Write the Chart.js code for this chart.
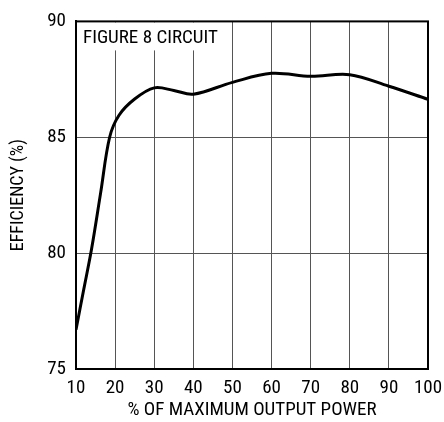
<!DOCTYPE html>
<html>
<head>
<meta charset="utf-8">
<script src="https://cdn.jsdelivr.net/npm/chart.js@4/dist/chart.umd.min.js"></script>
<style>
  html, body { margin: 0; padding: 0; background: #fff; }
  #wrap { width: 444px; height: 422px; }
</style>
</head>
<body>
<div id="wrap"><canvas id="graph" width="444" height="422"></canvas></div>
<script>
// % of max output power vs efficiency
const powerPct = [10, 12, 14, 16.3, 18.6, 21, 25, 30, 35, 40, 50, 60, 70, 80, 90, 100];
const efficiency = [76.7, 78.45, 80.2, 82.6, 85.0, 85.95, 86.65, 87.13, 87.02, 86.86, 87.37, 87.76, 87.63, 87.7, 87.2, 86.64];
const xTicks = [10, 20, 30, 40, 50, 60, 70, 80, 90, 100];
const yTicks = [75, 80, 85, 90];
const noteText = 'FIGURE 8 CIRCUIT';

const FONT = '"Liberation Sans Narrow", "Roboto Condensed", "Liberation Sans", sans-serif';

const points = powerPct.map((x, i) => ({ x: x, y: efficiency[i] }));

// white label box in the top left corner of the plot
const notePlugin = {
  id: 'note',
  beforeDatasetsDraw(chart) {
    const ctx = chart.ctx;
    const a = chart.chartArea;
    ctx.save();
    ctx.fillStyle = '#fff';
    ctx.fillRect(a.left + 1, a.top + 1, 148, 28);
    ctx.fillStyle = '#000';
    ctx.font = '19px ' + FONT;
    ctx.textBaseline = 'middle';
    ctx.fillText(noteText, a.left + 7, a.top + 17);
    ctx.restore();
  }
};

// frame around the plot
const framePlugin = {
  id: 'frame',
  afterDraw(chart) {
    const a = chart.chartArea;
    const ctx = chart.ctx;
    ctx.save();
    ctx.strokeStyle = '#000';
    ctx.lineWidth = 2;
    ctx.strokeRect(a.left, a.top, a.right - a.left, a.bottom - a.top);
    ctx.restore();
  }
};

new Chart(document.getElementById('graph'), {
  type: 'scatter',
  data: {
    datasets: [{
      data: points,
      showLine: true,
      borderColor: '#000',
      borderWidth: 3,
      pointRadius: 0,
      tension: 0.35
    }]
  },
  options: {
    responsive: false,
    animation: false,
    layout: { padding: { left: 0, right: 16, top: 15, bottom: 0 } },
    plugins: { legend: { display: false }, tooltip: { enabled: false } },
    scales: {
      x: {
        type: 'linear',
        min: 10,
        max: 100,
        afterBuildTicks: s => { s.ticks = xTicks.map(v => ({ value: v })); },
        afterFit: s => { s.height = 53; s.paddingLeft = 0; s.paddingRight = 0; },
        grid: { color: '#555', lineWidth: 1, drawTicks: false },
        border: { color: '#000', width: 2 },
        ticks: { color: '#000', padding: 8, font: { family: FONT, size: 19 } },
        title: {
          display: true,
          text: '% OF MAXIMUM OUTPUT POWER',
          color: '#000',
          font: { family: FONT, size: 19 },
          padding: { top: 0, bottom: 0 }
        }
      },
      y: {
        min: 75,
        max: 90,
        afterBuildTicks: s => { s.ticks = yTicks.map(v => ({ value: v })); },
        afterFit: s => { s.width = 76; },
        grid: { color: '#555', lineWidth: 1, drawTicks: false },
        border: { color: '#000', width: 2 },
        ticks: { color: '#000', padding: 10, font: { family: FONT, size: 19 } },
        title: {
          display: true,
          text: 'EFFICIENCY (%)',
          color: '#000',
          font: { family: FONT, size: 18 },
          padding: { top: 8, bottom: 0 }
        }
      }
    }
  },
  plugins: [notePlugin, framePlugin]
});
</script>
</body>
</html>
